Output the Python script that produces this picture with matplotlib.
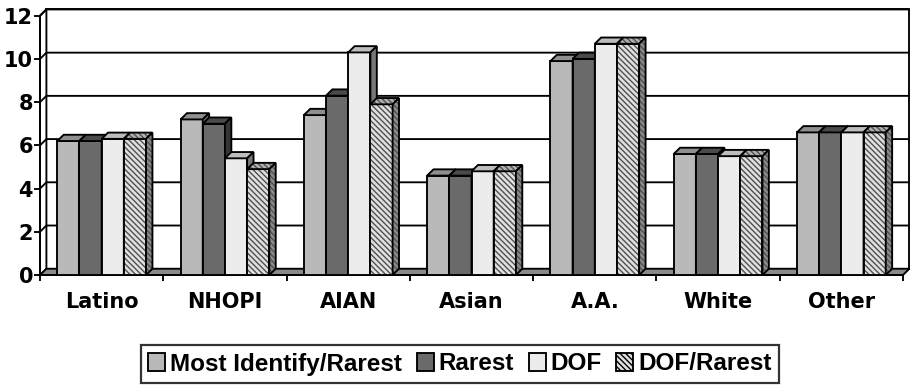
import matplotlib.pyplot as plt
from matplotlib.patches import Polygon, Patch
import numpy as np

# --- data ---
groups = ['Latino', 'NHOPI', 'AIAN', 'Asian', 'A.A.', 'White', 'Other']
series = ['Most Identify/Rarest', 'Rarest', 'DOF', 'DOF/Rarest']
most_identify_rarest = [6.2, 7.2, 7.4, 4.6, 9.9, 5.6, 6.6]
rarest = [6.2, 7.0, 8.3, 4.6, 10.0, 5.6, 6.6]
dof = [6.3, 5.4, 10.3, 4.8, 10.7, 5.5, 6.6]
dof_rarest = [6.3, 4.9, 7.9, 4.8, 10.7, 5.5, 6.6]
yticks = [0, 2, 4, 6, 8, 10, 12]

values = [most_identify_rarest, rarest, dof, dof_rarest]

# grey shades: (front, top, side), hatch only on the last series
front_col = ['#b9b9b9', '#6a6a6a', '#ececec', '#e0e0e0']
top_col = ['#8f8f8f', '#4a4a4a', '#bdbdbd', '#b0b0b0']
side_col = ['#767676', '#353535', '#777777', '#8a8a8a']
hatches = [None, None, None, '\\\\\\\\\\\\']

BAR_W = 0.18
DX, DY = 0.052, 0.29      # depth offset of the 3-D effect (data units)
EDGE = 1.35

fig = plt.figure(figsize=(9.15, 3.88), dpi=100)
ax = fig.add_axes([40 / 915, 1 - 275 / 388, 863 / 915, 259.3 / 388])
ax.set_xlim(-0.5, 6.5)
ax.set_ylim(0, 12)

x0, x1 = -0.5, 6.5

# walls and floor
ax.add_patch(Polygon([(x0 + DX, DY), (x1 + DX, DY), (x1 + DX, 12 + DY), (x0 + DX, 12 + DY)],
                     closed=True, fc='white', ec='black', lw=EDGE, zorder=1, clip_on=False))
ax.add_patch(Polygon([(x0, 0), (x0 + DX, DY), (x0 + DX, 12 + DY), (x0, 12)],
                     closed=True, fc='white', ec='black', lw=EDGE, zorder=1, clip_on=False))
ax.add_patch(Polygon([(x0, 0), (x1, 0), (x1 + DX, DY), (x0 + DX, DY)],
                     closed=True, fc='#8a8a8a', ec='black', lw=EDGE, zorder=1.2, clip_on=False))
for v in yticks[1:]:
    ax.plot([x0, x0 + DX, x1 + DX], [v, v + DY, v + DY], color='black', lw=EDGE,
            zorder=1.5, clip_on=False, solid_capstyle='butt')


def face(pts, fc, hatch, z):
    if hatch:
        ax.add_patch(Polygon(pts, closed=True, fc=fc, ec='#505050', lw=0, hatch=hatch,
                             zorder=z, clip_on=False))
        ax.add_patch(Polygon(pts, closed=True, fc='none', ec='black', lw=EDGE,
                             zorder=z, clip_on=False))
    else:
        ax.add_patch(Polygon(pts, closed=True, fc=fc, ec='black', lw=EDGE,
                             zorder=z, clip_on=False))


# bars, drawn left to right so each front face hides the previous side
for g in range(len(groups)):
    for k in range(len(series)):
        h = values[k][g]
        xc = g + (k - 1.5) * BAR_W
        z = 3 + 0.01 * (g * 4 + k)
        if hatches[k]:
            ax.bar(xc, h, BAR_W, color=front_col[k], edgecolor='#505050', linewidth=0,
                   hatch=hatches[k], zorder=z)
            ax.bar(xc, h, BAR_W, color='none', edgecolor='black', linewidth=EDGE, zorder=z)
        else:
            ax.bar(xc, h, BAR_W, color=front_col[k], edgecolor='black', linewidth=EDGE, zorder=z)
        l, r = xc - BAR_W / 2, xc + BAR_W / 2
        face([(l, h), (r, h), (r + DX, h + DY), (l + DX, h + DY)], top_col[k], hatches[k], z)
        face([(r, 0), (r + DX, DY), (r + DX, h + DY), (r, h)], side_col[k], hatches[k], z)

# axes: front left and bottom edges only
for s in ['top', 'right']:
    ax.spines[s].set_visible(False)
for s in ['left', 'bottom']:
    ax.spines[s].set_linewidth(EDGE)
    ax.spines[s].set_zorder(2)

ax.set_yticks(yticks)
ax.set_yticklabels([str(t) for t in yticks])
ax.tick_params(axis='y', length=4, width=EDGE, pad=1)
ax.set_xticks(range(len(groups)))
ax.set_xticklabels(groups)
ax.set_xticks(np.arange(-0.5, 7, 1), minor=True)
ax.tick_params(axis='x', which='major', length=0, pad=12)
ax.tick_params(axis='x', which='minor', length=4, width=EDGE)
for lab in ax.get_xticklabels() + ax.get_yticklabels():
    lab.set_fontfamily('DejaVu Sans')
    lab.set_fontweight('bold')
    lab.set_fontsize(15)

handles = []
for k in range(len(series)):
    handles.append(Patch(facecolor=front_col[k], edgecolor='black', linewidth=EDGE,
                         hatch=hatches[k], label=series[k]))
leg = fig.legend(handles=handles, loc='center', bbox_to_anchor=(460 / 915, 1 - 364 / 388),
                 ncol=4, frameon=True, fancybox=False, handlelength=0.7, handleheight=0.7,
                 handletextpad=0.2, columnspacing=0.6, borderpad=0.3,
                 prop={'family': 'Liberation Sans', 'weight': 'bold', 'size': 17.5})
leg.get_frame().set_edgecolor('black')
leg.get_frame().set_linewidth(1.6)

fig.savefig('out.png', dpi=100)
